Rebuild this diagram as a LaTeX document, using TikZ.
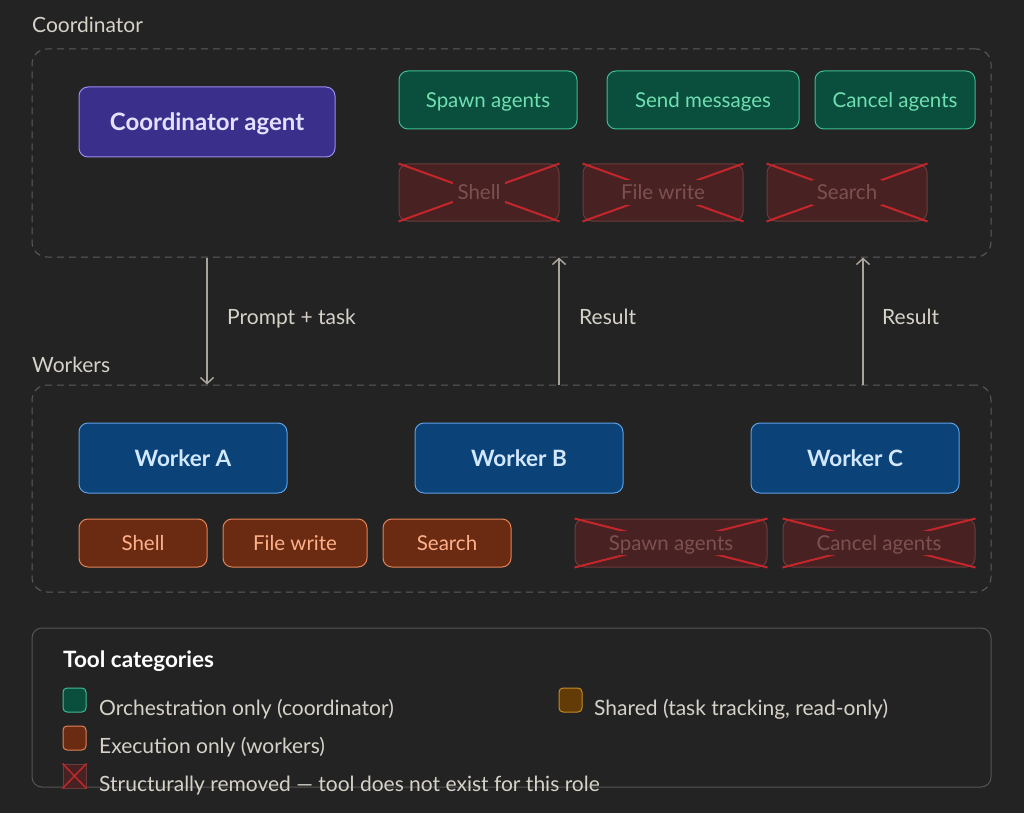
\documentclass[tikz,border=0pt]{standalone}
\usepackage{fontspec}
\setmainfont{Lato}
\usetikzlibrary{positioning,arrows.meta,calc}
\definecolor{bgdark}{HTML}{232323}
\definecolor{lbltext}{HTML}{D6D2C8}
\definecolor{dashgray}{HTML}{5C5C5C}
\definecolor{arrowgray}{HTML}{A8A49C}
\definecolor{coordfill}{HTML}{3B2F8C}
\definecolor{coordline}{HTML}{9A8CF0}
\definecolor{coordtext}{HTML}{E4E0FF}
\definecolor{orchfill}{HTML}{0A4E3E}
\definecolor{orchline}{HTML}{3DBD92}
\definecolor{orchtext}{HTML}{6FE0B0}
\definecolor{rmfill}{HTML}{482222}
\definecolor{rmline}{HTML}{6B3B3B}
\definecolor{rmtext}{HTML}{7E5050}
\definecolor{xred}{HTML}{C4262C}
\definecolor{wkfill}{HTML}{0B4379}
\definecolor{wkline}{HTML}{5D9FE6}
\definecolor{wktext}{HTML}{D2E8FF}
\definecolor{exfill}{HTML}{6B2B12}
\definecolor{exline}{HTML}{E08358}
\definecolor{extext}{HTML}{FFB08A}
\definecolor{shfill}{HTML}{623B06}
\definecolor{shline}{HTML}{C98A20}
\definecolor{legline}{HTML}{555555}
\tikzset{
  >={Straight Barb[length=6pt,width=13pt]},
  grplbl/.style={anchor=west,inner sep=0pt,text=lbltext,text height=15pt,text depth=0pt,
    font=\fontsize{21}{25}\selectfont},
  grpbox/.style={draw=dashgray,dash pattern=on 7pt off 5pt,rounded corners=15pt,
    line width=1pt,inner sep=0pt},
  box/.style={rounded corners=9pt,line width=1pt,inner sep=0pt,text depth=0pt},
  agent/.style={box,fill=coordfill,draw=coordline,text=coordtext,text height=17.3pt,
    minimum width=256pt,minimum height=70pt,font=\bfseries\fontsize{24}{28}\selectfont},
  worker/.style={box,fill=wkfill,draw=wkline,text=wktext,text height=16.2pt,
    minimum width=208pt,minimum height=70pt,font=\bfseries\fontsize{22.5}{26}\selectfont},
  orch/.style={box,fill=orchfill,draw=orchline,text=orchtext,text height=14.8pt,
    minimum height=58pt,font=\fontsize{20.5}{24}\selectfont},
  exec/.style={box,fill=exfill,draw=exline,text=extext,text height=14.8pt,
    minimum height=48pt,font=\fontsize{20.5}{24}\selectfont},
  rmbox/.style={box,fill=rmfill,draw=rmline},
  rmlbl/.style={fill=rmfill,text=rmtext,inner sep=5pt,text height=14.8pt,text depth=0pt,
    font=\fontsize{20.5}{24}\selectfont},
  xline/.style={draw=xred,line width=2pt},
  flow/.style={->,draw=arrowgray,line width=1.5pt},
  flowlbl/.style={grplbl},
  legbox/.style={draw=legline,rounded corners=10pt,line width=1pt,inner sep=0pt},
  legtitle/.style={anchor=west,inner sep=0pt,text=white,text height=16.2pt,text depth=0pt,
    font=\bfseries\fontsize{22.5}{26}\selectfont},
  legtext/.style={grplbl},
  swatch/.style={rounded corners=4pt,line width=1pt,minimum width=23pt,minimum height=24pt,inner sep=0pt},
}

\begin{document}
\begin{tikzpicture}[x=1pt,y=-1pt]
  \fill[bgdark] (0,0) rectangle (1024,813);
  \useasboundingbox (0,0) rectangle (1024,813);

  % group frames
  \node[grpbox,minimum width=959pt,minimum height=208pt] (cgrp) at (511.5,153) {};
  \node[grpbox,minimum width=959pt,minimum height=207pt] (wgrp) at (511.5,488.5) {};
  \node[grplbl] (clbl) at (32,25.5) {Coordinator};
  \node[grplbl] (wlbl) at (32,364.5) {Workers};

  % coordinator side
  \node[agent] (ca) at (207,122) {Coordinator agent};
  \node[orch,minimum width=178pt] (spawn) at (488,100) {Spawn agents};
  \node[orch,minimum width=192pt] (send) at (703,100) {Send messages};
  \node[orch,minimum width=160pt] (cancel) at (895,100) {Cancel agents};

  % workers
  \node[worker] (wa) at (183,458) {Worker A};
  \node[worker] (wb) at (519,458) {Worker B};
  \node[worker] (wc) at (855,458) {Worker C};
  \node[exec,minimum width=128pt] (shell) at (143,543) {Shell};
  \node[exec,minimum width=144pt] (fwrite) at (295,543) {File write};
  \node[exec,minimum width=128pt] (search) at (447,543) {Search};

  % removed tools
  \foreach \nm/\cx/\cy/\w/\h/\txt in {rs/479/192.5/160/57/Shell,
      rf/663/192.5/160/57/File write, rq/847/192.5/160/57/Search,
      rsp/671/543/192/48/Spawn agents, rca/879/543/192/48/Cancel agents}{
    \node[rmbox,minimum width=\w pt,minimum height=\h pt] (\nm) at (\cx,\cy) {};
    \draw[xline] (\nm.north west) -- (\nm.south east)
                 (\nm.south west) -- (\nm.north east);
    \node[rmlbl] (\nm-t) at (\nm) {\txt};
  }

  % messages
  \coordinate (rb) at (559,0);
  \coordinate (rc) at (863,0);
  \draw[flow] (cgrp.south -| ca) -- (wgrp.north -| ca);
  \draw[flow] (wgrp.north -| rb) -- (cgrp.south -| rb);
  \draw[flow] (wgrp.north -| rc) -- (cgrp.south -| rc);
  \node[flowlbl] (lprompt) at (227,317) {Prompt + task};
  \node[flowlbl] (lres1) at (579,317) {Result};
  \node[flowlbl] (lres2) at (882,317) {Result};

  % legend
  \node[legbox,minimum width=959pt,minimum height=159pt] (leg) at (511.5,707.5) {};
  \node[legtitle] (legt) at (63,659) {Tool categories};
  \node[swatch,fill=orchfill,draw=orchline] (sw1) at (74.5,700) {};
  \node[legtext] (lt1) at (99,708) {Orchestration only (coordinator)};
  \node[swatch,fill=shfill,draw=shline] (sw2) at (570.5,700) {};
  \node[legtext] (lt2) at (594,708) {Shared (task tracking, read-only)};
  \node[swatch,fill=exfill,draw=exline] (sw3) at (74.5,738) {};
  \node[legtext] (lt3) at (99,746) {Execution only (workers)};
  \node[swatch,fill=rmfill,draw=rmline,rounded corners=0pt] (sw4) at (74.5,776) {};
  \draw[xline,line width=1.5pt] (sw4.north west) -- (sw4.south east)
                                (sw4.south west) -- (sw4.north east);
  \node[legtext] (lt4) at (99,784) {Structurally removed — tool does not exist for this role};
\end{tikzpicture}
\end{document}
